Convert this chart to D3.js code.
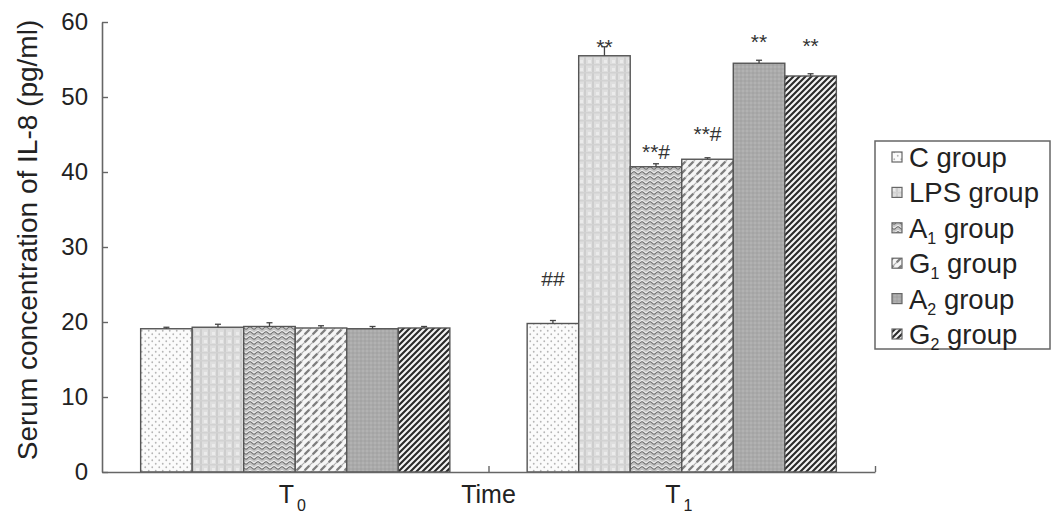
<!DOCTYPE html>
<html><head><meta charset="utf-8">
<script src="https://cdn.jsdelivr.net/npm/d3@7"></script>
<style>
body{margin:0;background:#fff;}
text{font-family:"Liberation Sans",Arial,sans-serif;fill:#222;}
</style></head>
<body><svg id="chart" width="1063" height="526"></svg>
<script>
// ---- data ----
const times = ["T0", "T1"];
const timeSubs = ["0", "1"];
const groups = ["C", "LPS", "A1", "G1", "A2", "G2"];
const groupLabels = [["C",""],["LPS",""],["A","1"],["G","1"],["A","2"],["G","2"]];
const valuesT0 = [19.1, 19.3, 19.4, 19.2, 19.1, 19.2];
const valuesT1 = [19.8, 55.5, 40.7, 41.7, 54.5, 52.8];
const errorsT0 = [0.2, 0.4, 0.5, 0.3, 0.3, 0.2];
const errorsT1 = [0.4, 1.2, 0.4, 0.2, 0.4, 0.3];
const notesT1 = ["##", "**", "**#", "**#", "**", "**"];
const yTicks = [0, 10, 20, 30, 40, 50, 60];

const svg = d3.select("#chart");
const defs = svg.append("defs");

function pat(id, w, h, bg, draw){
  const p = defs.append("pattern").attr("id", id).attr("patternUnits","userSpaceOnUse")
    .attr("width", w).attr("height", h);
  p.append("rect").attr("width", w).attr("height", h).attr("fill", bg);
  draw(p);
}
pat("pC", 7, 7, "#fbfbfb", p => {
  p.append("circle").attr("cx",1.75).attr("cy",1.75).attr("r",0.9).attr("fill","#b5b5b5");
  p.append("circle").attr("cx",5.25).attr("cy",5.25).attr("r",0.9).attr("fill","#b5b5b5");
});
pat("pLPS", 8, 8, "#dedede", p => {
  p.append("rect").attr("x",0).attr("y",0).attr("width",2).attr("height",8).attr("fill","#cdcdcd");
  p.append("rect").attr("x",0).attr("y",0).attr("width",8).attr("height",1.5).attr("fill","#d2d2d2");
  p.append("rect").attr("x",4).attr("y",4).attr("width",3).attr("height",3).attr("fill","#ebebeb");
});
pat("pA1", 8, 5, "#c4c4c4", p => {
  p.append("path").attr("d","M0,3 Q2,0.5 4,3 T8,3").attr("fill","none").attr("stroke","#6e6e6e").attr("stroke-width",1.1);
  p.append("path").attr("d","M0,1.5 Q2,-1 4,1.5 T8,1.5").attr("fill","none").attr("stroke","#f2f2f2").attr("stroke-width",0.9);
});
pat("pG1", 8, 8, "#f6f6f6", p => {
  p.append("path").attr("d","M1,6 L5,2").attr("stroke","#7d7d7d").attr("stroke-width",2.4).attr("stroke-linecap","round");
  p.append("path").attr("d","M5,10 L9,6 M-3,10 L1,6 M5,2 L7,0").attr("stroke","#b0b0b0").attr("stroke-width",1.2);
});
pat("pA2", 4, 4, "#aaaaaa", p => {
  p.append("rect").attr("x",0).attr("y",0).attr("width",2).attr("height",2).attr("fill","#a4a4a4");
  p.append("rect").attr("x",2).attr("y",2).attr("width",2).attr("height",2).attr("fill","#b2b2b2");
});
pat("pG2", 6, 6, "#f4f4f4", p => {
  p.append("path").attr("d","M-1.5,1.5 L1.5,-1.5 M0,6 L6,0 M4.5,7.5 L7.5,4.5").attr("stroke","#2a2a2a").attr("stroke-width",2.1);
});
const fills = ["url(#pC)","url(#pLPS)","url(#pA1)","url(#pG1)","url(#pA2)","url(#pG2)"];

// ---- scales ----
const x = d3.scaleLinear().domain([0, 4]).range([102, 875]);
const y = d3.scaleLinear().domain([0, 60]).range([472, 22]);
const inner = d3.scaleBand().domain(groups).range([-0.8, 0.8]).padding(0);
const timePos = [1, 3];

const data = [];
[valuesT0, valuesT1].forEach((vals, ti) => {
  vals.forEach((v, gi) => data.push({t: ti, g: gi, v, e: [errorsT0, errorsT1][ti][gi],
    note: ti === 1 ? notesT1[gi] : ""}));
});
const bx = d => x(timePos[d.t] + inner(groups[d.g]));
const bw = x(inner.bandwidth()) - x(0);

svg.append("g").selectAll("rect").data(data).join("rect")
  .attr("x", bx).attr("y", d => y(d.v))
  .attr("width", bw).attr("height", d => y(0) - y(d.v))
  .attr("fill", d => fills[d.g]).attr("stroke", "#555").attr("stroke-width", 1.4);

const eb = svg.append("g").attr("stroke","#444").attr("stroke-width",1.3);
data.forEach(d => {
  const cx = bx(d) + bw/2;
  eb.append("line").attr("x1",cx).attr("x2",cx).attr("y1",y(d.v)).attr("y2",y(d.v+d.e));
  eb.append("line").attr("x1",cx-3).attr("x2",cx+3).attr("y1",y(d.v+d.e)).attr("y2",y(d.v+d.e));
});

// significance notes (pixel offset above error bar top)
const noteDy = [35, -7, 5, 17, 11, 21];
svg.append("g").selectAll("text").data(data.filter(d => d.note)).join("text")
  .attr("x", d => bx(d) + bw/2).attr("y", d => y(d.v + d.e) - noteDy[d.g])
  .attr("text-anchor","middle").attr("font-size", 21).style("fill","#333")
  .text(d => d.note);

// axes
const yAxis = d3.axisLeft(y).tickValues(yTicks).tickSizeInner(-6).tickSizeOuter(0).tickPadding(14);
const gy = svg.append("g").attr("transform", `translate(${x(0)},0)`).call(yAxis);
gy.select(".domain").attr("stroke","#666").attr("stroke-width",1.6);
gy.selectAll(".tick line").attr("stroke","#666").attr("stroke-width",1.4);
gy.selectAll(".tick text").attr("font-size", 24).attr("font-family","Liberation Sans, Arial, sans-serif").style("fill","#222");

const xAxis = d3.axisBottom(x).tickValues([2, 4]).tickSizeInner(-6).tickSizeOuter(0).tickFormat("");
const gx = svg.append("g").attr("transform", `translate(0,${y(0)})`).call(xAxis);
gx.select(".domain").attr("stroke","#666").attr("stroke-width",1.6);
gx.selectAll(".tick line").attr("stroke","#666").attr("stroke-width",1.4);

// x labels
times.forEach((t, i) => {
  const tx = svg.append("text").attr("x", x(timePos[i]) - 3).attr("y", 503)
    .attr("text-anchor","middle").attr("font-size", 25);
  tx.append("tspan").text("T");
  tx.append("tspan").attr("font-size", 16).attr("dy", 8).attr("dx", 3).text(timeSubs[i]);
});
svg.append("text").attr("x", x(2)).attr("y", 503).attr("text-anchor","middle")
  .attr("font-size", 25).text("Time");

// y label
svg.append("text").attr("transform", `translate(37,${(y(0)+y(60))/2 - 7}) rotate(-90)`)
  .attr("text-anchor","middle").attr("font-size", 28)
  .text("Serum concentration of IL-8 (pg/ml)");

// legend
const lg = svg.append("g");
lg.append("rect").attr("x", 875).attr("y", 141).attr("width", 175).attr("height", 208)
  .attr("fill","#fff").attr("stroke","#666").attr("stroke-width",1.5);
groupLabels.forEach((gl, i) => {
  const cy = 157 + i * 35.4;
  lg.append("rect").attr("x", 892).attr("y", cy - 5).attr("width", 10).attr("height", 10)
    .attr("fill", fills[i]).attr("stroke","#666").attr("stroke-width",1.2);
  const t = lg.append("text").attr("x", 909).attr("y", cy + 10).attr("font-size", 27.5);
  t.append("tspan").text(gl[0]);
  if (gl[1]) {
    t.append("tspan").attr("font-size", 16).attr("dy", 6).text(gl[1]);
    t.append("tspan").attr("dy", -6).text(" group");
  } else {
    t.append("tspan").text(" group");
  }
});
</script></body></html>
